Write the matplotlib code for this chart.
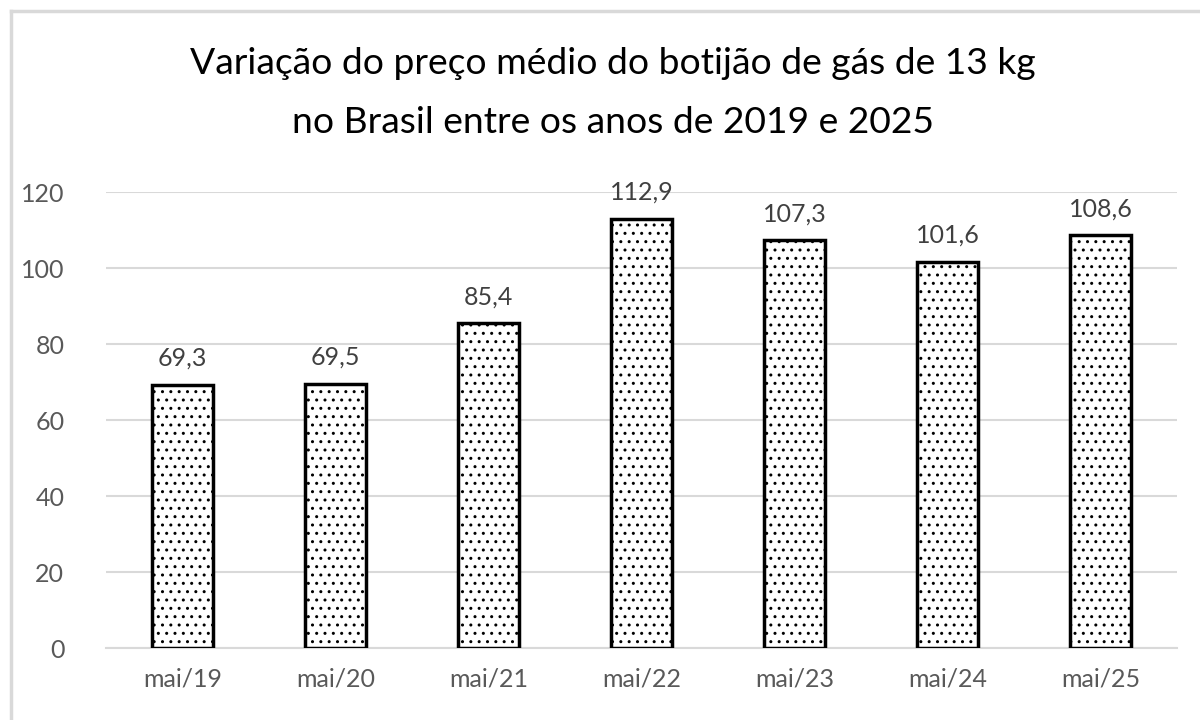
import matplotlib.pyplot as plt
from matplotlib.lines import Line2D

plt.rcParams['font.family'] = ['Lato', 'DejaVu Sans']
plt.rcParams['hatch.linewidth'] = 1.0

meses = ['mai/19', 'mai/20', 'mai/21', 'mai/22', 'mai/23', 'mai/24', 'mai/25']
precos = [69.3, 69.5, 85.4, 112.9, 107.3, 101.6, 108.6]
rotulos = ['69,3', '69,5', '85,4', '112,9', '107,3', '101,6', '108,6']
yticks = [0, 20, 40, 60, 80, 100, 120]

fig = plt.figure(figsize=(12, 7.2), dpi=100)
ax = fig.add_axes([0.0883, 0.1, 0.8925, 0.6333])

x = range(len(meses))
bars = ax.bar(x, precos, width=0.4, color='white', edgecolor='black',
              linewidth=2.5, hatch='..', zorder=3)

for xi, v, lab in zip(x, precos, rotulos):
    ax.text(xi, v + 4, lab, ha='center', va='bottom', fontsize=18,
            color='#404040')

ax.set_xlim(-0.5, len(meses) - 0.5)
ax.set_ylim(0, 120)
ax.set_yticks(yticks)
ax.set_xticks(list(x))
ax.set_xticklabels(meses)
ax.yaxis.grid(True, color='#d9d9d9', linewidth=1.5, zorder=0)
for s in ['top', 'right', 'left']:
    ax.spines[s].set_visible(False)
ax.spines['bottom'].set_color('#d9d9d9')
ax.spines['bottom'].set_linewidth(1.5)
ax.tick_params(length=0, labelsize=18, colors='#595959', pad=14)
ax.tick_params(axis='y', pad=30)
for t in ax.get_yticklabels():
    t.set_horizontalalignment('right')

fig.text(0.511, 0.912, 'Variação do preço médio do botijão de gás de 13 kg',
         ha='center', va='center', fontsize=26.8, color='black')
fig.text(0.511, 0.83, 'no Brasil entre os anos de 2019 e 2025',
         ha='center', va='center', fontsize=26.8, color='black')

# moldura cinza (cortada à direita e embaixo)
fig.add_artist(Line2D([0.009, 1.0], [0.985, 0.985], color='#d9d9d9', linewidth=2.5,
                      transform=fig.transFigure))
fig.add_artist(Line2D([0.009, 0.009], [0.0, 0.985], color='#d9d9d9', linewidth=2.5,
                      transform=fig.transFigure))

fig.savefig('out.png', dpi=100)
